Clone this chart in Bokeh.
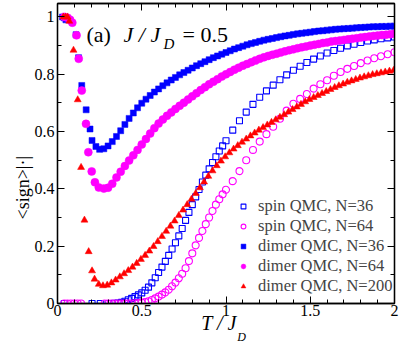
import math
from bokeh.plotting import figure
from bokeh.models import (Range1d, FixedTicker, LinearAxis, Label, Legend, LegendItem)
from bokeh.embed import file_html
from bokeh.resources import INLINE

# ---------------- data ----------------
spin36_T = [0.040, 0.205, 0.254, 0.300, 0.320, 0.340, 0.360, 0.380, 0.400, 0.420, 0.440,
            0.460, 0.480, 0.500, 0.520, 0.540, 0.560, 0.580, 0.600, 0.620, 0.640, 0.660,
            0.680, 0.700, 0.720, 0.740, 0.760, 0.780, 0.800, 0.820, 0.840, 0.860, 0.880,
            0.900, 0.920, 0.940, 0.960, 0.980, 1.000, 1.040, 1.080, 1.120, 1.160, 1.200,
            1.240, 1.280, 1.320, 1.360, 1.400, 1.440, 1.480, 1.520, 1.560, 1.600, 1.640,
            1.680, 1.720, 1.760, 1.800, 1.840, 1.880, 1.920, 1.960, 2.000]
spin36_S = [0.000, 0.000, 0.000, 0.000, 0.000, 0.001, 0.002, 0.004, 0.008, 0.013, 0.018,
            0.024, 0.030, 0.037, 0.046, 0.057, 0.072, 0.090, 0.108, 0.127, 0.147, 0.168,
            0.190, 0.212, 0.236, 0.262, 0.290, 0.318, 0.345, 0.372, 0.398, 0.424, 0.448,
            0.470, 0.492, 0.512, 0.532, 0.550, 0.568, 0.605, 0.638, 0.668, 0.695, 0.720,
            0.742, 0.762, 0.781, 0.798, 0.814, 0.828, 0.841, 0.853, 0.864, 0.874, 0.883,
            0.891, 0.899, 0.905, 0.911, 0.916, 0.920, 0.924, 0.927, 0.930]

spin64_T = [0.040, 0.060, 0.080, 0.100, 0.120, 0.140, 0.280, 0.300, 0.320, 0.340, 0.360,
            0.380, 0.400, 0.420, 0.440, 0.460, 0.480, 0.500, 0.520, 0.540, 0.560, 0.580,
            0.600, 0.620, 0.640, 0.660, 0.680, 0.700, 0.720, 0.740, 0.760, 0.780, 0.800,
            0.820, 0.840, 0.860, 0.880, 0.900, 0.920, 0.940, 0.960, 0.980, 1.000, 1.040,
            1.080, 1.120, 1.160, 1.200, 1.240, 1.280, 1.320, 1.360, 1.400, 1.440, 1.480,
            1.520, 1.560, 1.600, 1.640, 1.680, 1.720, 1.760, 1.800, 1.840, 1.880, 1.920,
            1.960, 2.000]
spin64_S = [0.000, 0.000, 0.000, 0.000, 0.000, 0.000, 0.000, 0.000, 0.000, 0.000, 0.000,
            0.000, 0.000, 0.000, 0.000, 0.001, 0.002, 0.003, 0.005, 0.008, 0.012, 0.018,
            0.024, 0.031, 0.039, 0.048, 0.060, 0.073, 0.088, 0.104, 0.123, 0.148, 0.175,
            0.203, 0.229, 0.253, 0.277, 0.300, 0.323, 0.345, 0.364, 0.381, 0.397, 0.427,
            0.462, 0.500, 0.536, 0.565, 0.591, 0.617, 0.645, 0.673, 0.697, 0.714, 0.731,
            0.750, 0.765, 0.779, 0.795, 0.808, 0.819, 0.829, 0.839, 0.848, 0.856, 0.863,
            0.870, 0.877]

dimer36_T = [0.030, 0.040, 0.050, 0.110, 0.125, 0.144, 0.170, 0.193, 0.205, 0.228,
             0.250, 0.275, 0.300, 0.325, 0.350, 0.375, 0.400, 0.425, 0.450, 0.475,
             0.500, 0.525, 0.550, 0.575, 0.600, 0.625, 0.650, 0.675, 0.700, 0.725,
             0.750, 0.775, 0.800, 0.825, 0.850, 0.875, 0.900, 0.925, 0.950, 0.975,
             1.000, 1.025, 1.050, 1.075, 1.100, 1.125, 1.150, 1.175, 1.200, 1.225,
             1.250, 1.275, 1.300, 1.325, 1.350, 1.375, 1.400, 1.425, 1.450, 1.475,
             1.500, 1.525, 1.550, 1.575, 1.600, 1.625, 1.650, 1.675, 1.700, 1.725,
             1.750, 1.775, 1.800, 1.825, 1.850, 1.875, 1.900, 1.925, 1.950, 1.975, 2.000]
dimer36_S = [1.000, 0.997, 0.990, 0.938, 0.858, 0.761, 0.676, 0.609, 0.569, 0.548,
             0.538, 0.540, 0.550, 0.565, 0.583, 0.603, 0.625, 0.646, 0.665, 0.683,
             0.699, 0.713, 0.726, 0.738, 0.749, 0.760, 0.770, 0.780, 0.789, 0.798,
             0.806, 0.814, 0.822, 0.830, 0.837, 0.844, 0.851, 0.858, 0.864, 0.870,
             0.876, 0.882, 0.888, 0.893, 0.898, 0.903, 0.907, 0.911, 0.915, 0.919,
             0.922, 0.925, 0.928, 0.931, 0.934, 0.936, 0.939, 0.941, 0.943, 0.945,
             0.947, 0.949, 0.951, 0.952, 0.954, 0.955, 0.957, 0.958, 0.959, 0.960,
             0.961, 0.962, 0.963, 0.964, 0.965, 0.966, 0.966, 0.967, 0.967, 0.968, 0.968]

dimer64_T = [0.040, 0.060, 0.075, 0.088, 0.113, 0.126, 0.144, 0.169, 0.183, 0.203,
             0.222, 0.245, 0.275, 0.300, 0.325, 0.350, 0.375, 0.400, 0.425, 0.450,
             0.475, 0.500, 0.525, 0.550, 0.575, 0.600, 0.625, 0.650, 0.675, 0.700,
             0.725, 0.750, 0.775, 0.800, 0.825, 0.850, 0.875, 0.900, 0.925, 0.950,
             0.975, 1.000, 1.025, 1.050, 1.075, 1.100, 1.125, 1.150, 1.175, 1.200,
             1.225, 1.250, 1.275, 1.300, 1.325, 1.350, 1.375, 1.400, 1.425, 1.450,
             1.475, 1.500, 1.525, 1.550, 1.575, 1.600, 1.625, 1.650, 1.675, 1.700,
             1.725, 1.750, 1.775, 1.800, 1.825, 1.850, 1.875, 1.900, 1.925, 1.950,
             1.975, 2.000]
dimer64_S = [1.000, 0.997, 0.990, 0.980, 0.936, 0.854, 0.743, 0.627, 0.528, 0.461,
             0.423, 0.405, 0.401, 0.404, 0.418, 0.440, 0.460, 0.480, 0.499, 0.517,
             0.536, 0.555, 0.574, 0.593, 0.612, 0.628, 0.642, 0.655, 0.667, 0.679,
             0.690, 0.701, 0.712, 0.723, 0.734, 0.745, 0.755, 0.765, 0.774, 0.783,
             0.792, 0.800, 0.808, 0.816, 0.823, 0.830, 0.836, 0.842, 0.848, 0.854,
             0.859, 0.864, 0.868, 0.872, 0.876, 0.880, 0.884, 0.887, 0.891, 0.894,
             0.897, 0.900, 0.903, 0.906, 0.909, 0.911, 0.914, 0.916, 0.918, 0.920,
             0.922, 0.924, 0.926, 0.928, 0.930, 0.932, 0.934, 0.935, 0.937, 0.938,
             0.940, 0.941]

dimer200_T = [0.035, 0.048, 0.060, 0.070, 0.095, 0.120, 0.140, 0.160, 0.185, 0.205,
              0.220, 0.245, 0.270, 0.295, 0.320, 0.345, 0.370, 0.395, 0.420, 0.445,
              0.470, 0.495, 0.520, 0.545, 0.570, 0.595, 0.620, 0.645, 0.670, 0.695,
              0.720, 0.745, 0.770, 0.795, 0.820, 0.845, 0.870, 0.895, 0.920, 0.945,
              0.970, 0.995, 1.020, 1.045, 1.070, 1.095, 1.120, 1.145, 1.170, 1.195,
              1.220, 1.245, 1.270, 1.295, 1.320, 1.345, 1.370, 1.395, 1.420, 1.445,
              1.470, 1.495, 1.520, 1.545, 1.570, 1.595, 1.620, 1.645, 1.670, 1.695,
              1.720, 1.745, 1.770, 1.795, 1.820, 1.845, 1.870, 1.895, 1.920, 1.945,
              1.970, 1.995]
dimer200_S = [1.000, 1.000, 1.000, 0.985, 0.884, 0.711, 0.475, 0.291, 0.181, 0.114,
              0.085, 0.067, 0.062, 0.064, 0.072, 0.082, 0.093, 0.104, 0.115, 0.127,
              0.140, 0.154, 0.168, 0.183, 0.199, 0.216, 0.234, 0.252, 0.270, 0.288,
              0.307, 0.326, 0.345, 0.364, 0.384, 0.404, 0.424, 0.444, 0.463, 0.481,
              0.497, 0.512, 0.526, 0.539, 0.551, 0.563, 0.574, 0.585, 0.595, 0.605,
              0.614, 0.623, 0.632, 0.641, 0.650, 0.659, 0.668, 0.677, 0.686, 0.695,
              0.704, 0.712, 0.719, 0.726, 0.733, 0.740, 0.747, 0.754, 0.760, 0.766,
              0.772, 0.777, 0.782, 0.787, 0.791, 0.795, 0.799, 0.802, 0.805, 0.808,
              0.811, 0.814]

series_labels = ["spin QMC, N=36", "spin QMC, N=64", "dimer QMC, N=36",
                 "dimer QMC, N=64", "dimer QMC, N=200"]

x_major = [0, 0.5, 1, 1.5, 2]
x_major_labels = ["0", "0.5", "1", "1.5", "2"]
x_minor = [0.1, 0.2, 0.3, 0.4, 0.6, 0.7, 0.8, 0.9, 1.1, 1.2, 1.3, 1.4, 1.6, 1.7, 1.8, 1.9]
y_major = [0, 0.2, 0.4, 0.6, 0.8, 1.0]
y_major_labels = ["0", "0.2", "0.4", "0.6", "0.8", "1"]
y_minor = [0.1, 0.3, 0.5, 0.7, 0.9]

# axis-title pieces: (text, anchor in data units along the axis)
x_title = ("T / J", 0.958)
x_title_sub = ("D", 1.092)
y_title = ("<sign>|·|", 0.515)

BLUE = "#0000ff"
MAGENTA = "#ff00ff"
RED = "#ff0000"
SERIF = "Liberation Serif"

# ---------------- figure ----------------
p = figure(width=399, height=347, output_backend="svg", toolbar_location=None,
           x_range=Range1d(0, 2), y_range=Range1d(0, 1.047),
           min_border_left=54, min_border_right=5, min_border_top=3, min_border_bottom=44)
p.grid.visible = False
p.outline_line_color = "black"
p.outline_line_width = 1.3
p.background_fill_color = "white"
p.border_fill_color = "white"

xt = FixedTicker(ticks=x_major, minor_ticks=x_minor)
yt = FixedTicker(ticks=y_major, minor_ticks=y_minor)


def style_axis(ax, ticker, labels, show_labels):
    ax.ticker = ticker
    ax.axis_line_color = "black"
    ax.axis_line_width = 1.3
    ax.major_tick_in = 7
    ax.major_tick_out = 0
    ax.minor_tick_in = 4
    ax.minor_tick_out = 0
    ax.major_tick_line_color = "black"
    ax.minor_tick_line_color = "black"
    ax.major_tick_line_width = 1
    ax.minor_tick_line_width = 1
    ax.axis_label = None
    if show_labels:
        ax.major_label_overrides = {t: l for t, l in zip(ticker.ticks, labels)}
        ax.major_label_text_font = SERIF
        ax.major_label_text_font_size = "16px"
        ax.major_label_text_color = "black"
        ax.major_label_standoff = 1
    else:
        ax.major_label_text_font_size = "0px"
        ax.major_label_standoff = 0
        ax.major_label_text_color = None


def title_axis(side, piece, size, style, standoff, orientation):
    """An axis that carries only one piece of an axis title as its single label."""
    text, pos = piece
    ax = LinearAxis(ticker=FixedTicker(ticks=[pos], minor_ticks=[]),
                    major_label_overrides={pos: text},
                    axis_line_color=None, major_tick_line_color=None,
                    minor_tick_line_color=None, major_tick_in=0, major_tick_out=0,
                    minor_tick_in=0, minor_tick_out=0,
                    major_label_text_font=SERIF, major_label_text_font_size=size,
                    major_label_text_font_style=style, major_label_text_color="black",
                    major_label_standoff=standoff, major_label_orientation=orientation)
    p.add_layout(ax, side)
    return ax


xax = p.xaxis[0]
yax = p.yaxis[0]
style_axis(xax, xt, x_major_labels, True)
style_axis(yax, yt, y_major_labels, True)
yax.major_label_standoff = 3
xax.major_label_orientation = "horizontal"
yax.major_label_orientation = "horizontal"

# x title  T / J_D  (stacked below the tick labels)
title_axis("below", x_title, "20px", "italic", -7, "horizontal")
title_axis("below", x_title_sub, "12px", "italic", -7, "horizontal")
# y title  <sign>|.|  (left of the tick labels)
title_axis("left", y_title, "18px", "normal", 8, math.pi / 2)

top_ax = LinearAxis()
style_axis(top_ax, xt, x_major_labels, False)
p.add_layout(top_ax, "above")
right_ax = LinearAxis()
style_axis(right_ax, yt, y_major_labels, False)
p.add_layout(right_ax, "right")

# ---------------- data glyphs ----------------
r1 = p.scatter(spin36_T, spin36_S, marker="square", size=6, fill_color=None,
               line_color=BLUE, line_width=1.1)
r2 = p.scatter(spin64_T, spin64_S, marker="circle", size=7, fill_color=None,
               line_color=MAGENTA, line_width=1.1)
r3 = p.scatter(dimer36_T, dimer36_S, marker="square", size=6, fill_color=BLUE,
               line_color=BLUE, line_width=0.5)
r4 = p.scatter(dimer64_T, dimer64_S, marker="circle", size=8, fill_color=MAGENTA,
               line_color=MAGENTA, line_width=0.5)
r5 = p.scatter(dimer200_T, dimer200_S, marker="triangle", size=7, fill_color=RED,
               line_color=RED, line_width=0.5)

legend = Legend(items=[LegendItem(label=l, renderers=[r]) for l, r in
                       zip(series_labels, [r1, r2, r3, r4, r5])],
                location=(180, 7), border_line_color=None, background_fill_alpha=0,
                label_text_font=SERIF, label_text_font_size="16.5px",
                glyph_width=12, glyph_height=18, label_height=18, spacing=0,
                padding=0, margin=0, label_standoff=9)
p.add_layout(legend)

# ---------------- panel title  (a)  J / J_D = 0.5  (frame-relative pixels) ----------------
def lab(x, y, text, size, style="normal"):
    p.add_layout(Label(x=x, y=y, x_units="screen", y_units="screen", text=text,
                       text_font=SERIF, text_font_size=size, text_font_style=style,
                       text_color="black", text_baseline="alphabetic"))

lab(29, 269, "(a)", "22px")
lab(66, 269, "J / J", "22px", "italic")
lab(106, 260, "D", "15px", "italic")
lab(125, 269, "= 0.5", "22px")

open("out.html", "w").write(file_html(p, INLINE))
